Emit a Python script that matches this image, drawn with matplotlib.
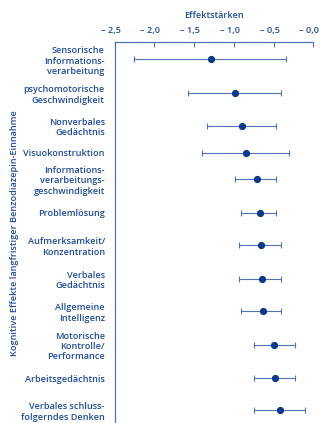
import matplotlib
matplotlib.use('Agg')
import matplotlib.pyplot as plt
import matplotlib.transforms as mtransforms

# effect sizes (mean, lower, upper) per cognitive domain
domains = [
    "Sensorische\nInformations-\nverarbeitung",
    "psychomotorische\nGeschwindigkeit",
    "Nonverbales\nGedächtnis",
    "Visuokonstruktion",
    "Informations-\nverarbeitungs-\ngeschwindigkeit",
    "Problemlösung",
    "Aufmerksamkeit/\nKonzentration",
    "Verbales\nGedächtnis",
    "Allgemeine\nIntelligenz",
    "Motorische\nKontrolle/\nPerformance",
    "Arbeitsgedächtnis",
    "Verbales schluss-\nfolgerndes Denken",
]
effect = [-1.29, -0.98, -0.90, -0.85, -0.71, -0.67, -0.66, -0.65, -0.63, -0.49, -0.48, -0.42]
lower = [-2.26, -1.57, -1.34, -1.40, -0.99, -0.91, -0.93, -0.93, -0.91, -0.75, -0.75, -0.75]
upper = [-0.34, -0.40, -0.47, -0.30, -0.47, -0.47, -0.40, -0.40, -0.40, -0.23, -0.23, -0.10]

tick_vals = [-2.5, -2.0, -1.5, -1.0, -0.5, 0.0]
tick_text = ["– 2,5", "– 2,0", "– 1,5", "– 1,0", "– 0,5", "– 0,0"]

# row centres (rows with short labels sit a bit closer together)
rows = [0.52, 1.55, 2.54, 3.35, 4.15, 5.16, 6.15, 7.17, 8.16, 9.17, 10.18, 11.16]

dark = '#0b3a8c'
light = '#4f72b8'
txt = '#1d4b9b'
fs = 6.6

plt.rcParams['font.family'] = ['Open Sans', 'DejaVu Sans']

fig = plt.figure(figsize=(3.2, 4.23), dpi=100)
ax = fig.add_axes([0.358, 0.0, 0.621, 0.9])

xerr = [[e - l for e, l in zip(effect, lower)], [u - e for e, u in zip(effect, upper)]]
ax.errorbar(effect, rows, xerr=xerr, fmt='o', color=dark, ms=4.2,
            ecolor=light, elinewidth=0.8, capsize=1.9, capthick=0.8)

ax.set_xlim(-2.5, 0.0)
ax.set_ylim(11.54, 0.0)
ax.set_yticks(rows)
ax.set_yticklabels(domains, fontsize=fs, color=txt, linespacing=1.2,
                   ha='right', fontweight='semibold')
ax.tick_params(axis='y', length=0, pad=7)

ax.xaxis.tick_top()
ax.xaxis.set_label_position('top')
ax.set_xticks(tick_vals)
ax.set_xticklabels(tick_text, fontsize=fs, color=txt, fontweight='semibold')
ax.tick_params(axis='x', direction='in', length=3.5, width=0.8, color=light, pad=5)
# labels sit a little left of their ticks
shift = mtransforms.ScaledTranslation(-4 / 100, 0, fig.dpi_scale_trans)
for lab in ax.get_xticklabels():
    lab.set_transform(lab.get_transform() + shift)
ax.set_xlabel("Effektstärken", fontsize=fs, color=txt, labelpad=6, fontweight='semibold')

for s in ['right', 'bottom']:
    ax.spines[s].set_visible(False)
for s in ['top', 'left']:
    ax.spines[s].set_color(light)
    ax.spines[s].set_linewidth(0.9)

fig.text(15 / 320, 1 - 233 / 423, "Kognitive Effekte langfristiger Benzodiazepin-Einnahme",
         rotation=90, ha='center', va='center', fontsize=fs, color=txt, fontweight='semibold')

fig.savefig('out.png', dpi=100)
